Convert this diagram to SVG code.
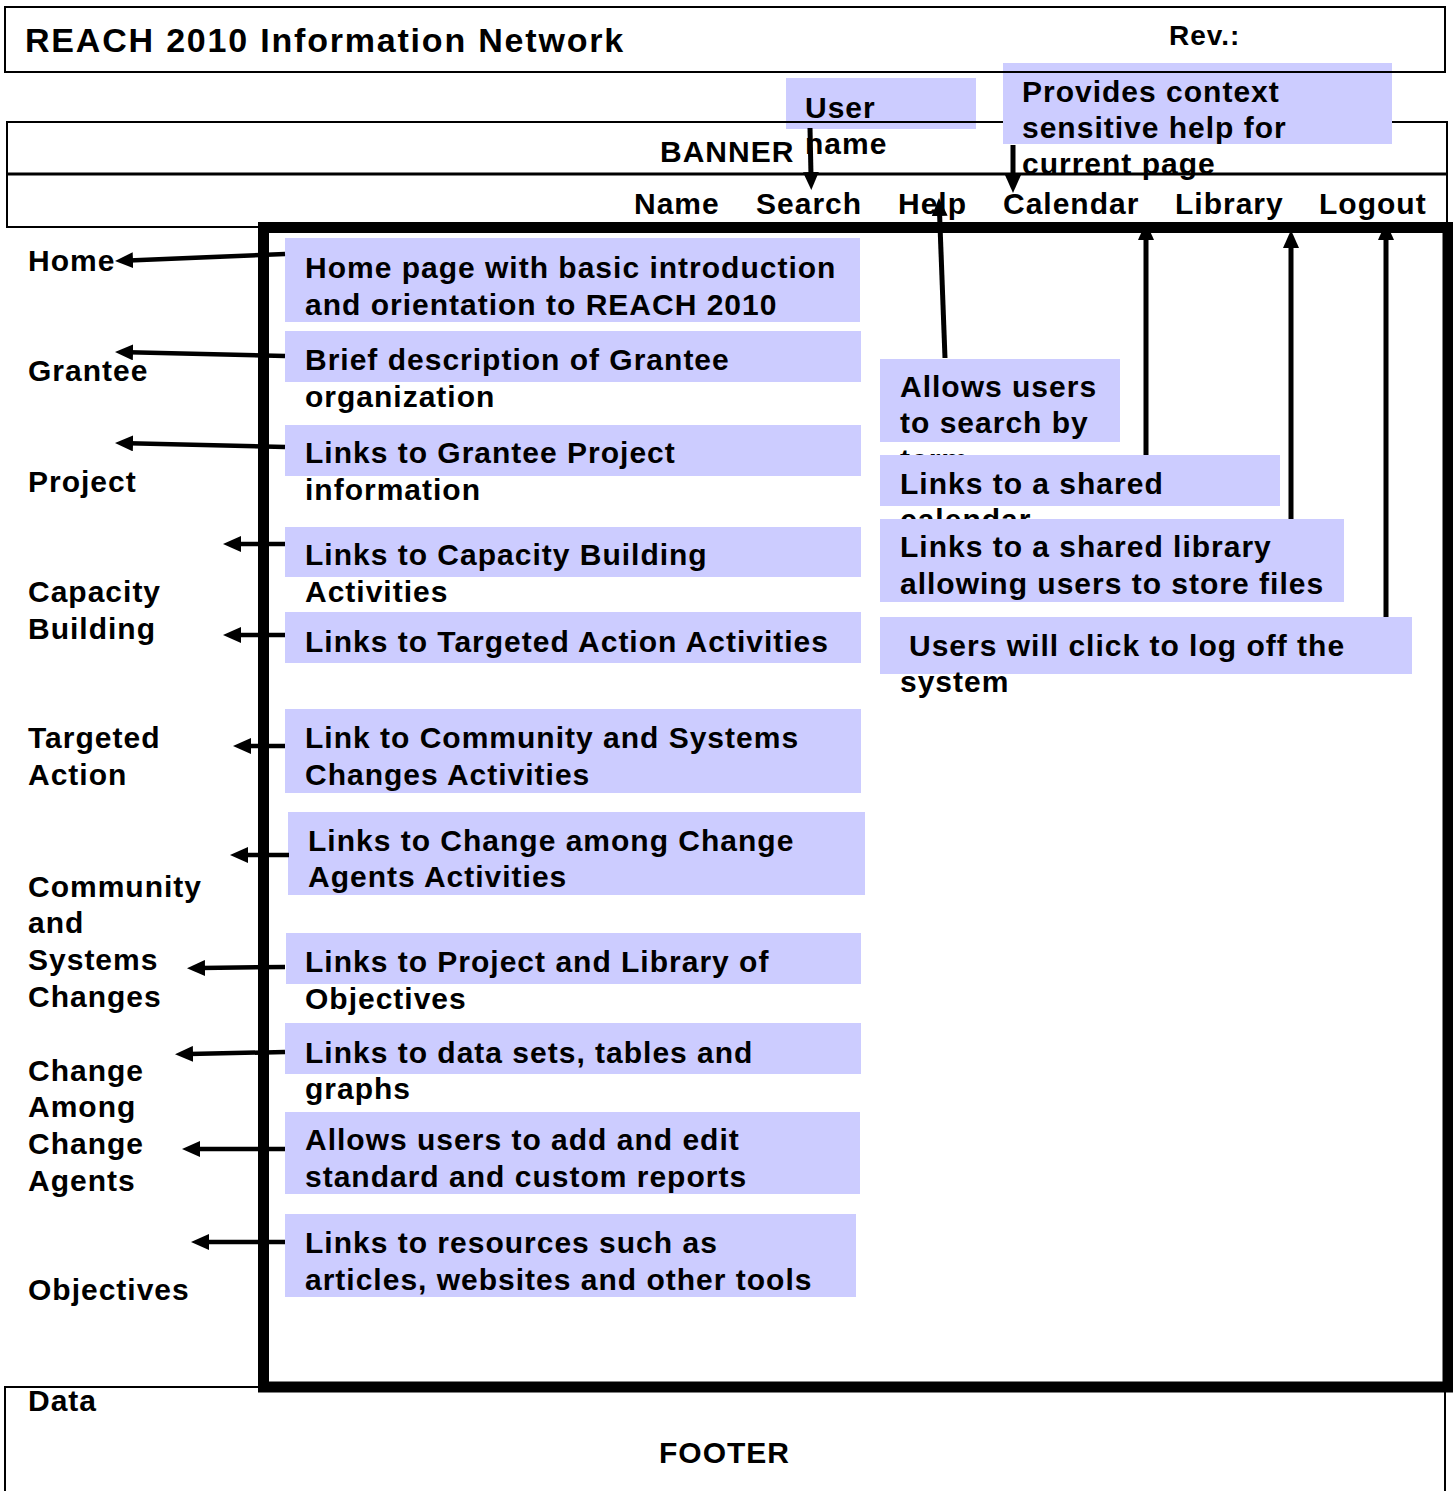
<svg xmlns="http://www.w3.org/2000/svg" width="1453" height="1491" viewBox="0 0 1453 1491">
<style>
text{font-family:"Liberation Sans",Arial,sans-serif;font-weight:bold;fill:#000;font-size:30px;letter-spacing:1px}
.frame{fill:none;stroke:#000;stroke-width:2}
.note{fill:#ccccff;stroke:none}
.arr{stroke:#000;stroke-width:4.5;fill:none;marker-end:url(#ah)}
.varr{stroke:#000;stroke-width:5;fill:none;marker-end:url(#ah)}
</style>
<defs>
<marker id="ah" viewBox="0 0 18 16" refX="4" refY="8" markerWidth="18" markerHeight="16" orient="auto" markerUnits="userSpaceOnUse">
<path d="M0,0 L18,8 L0,16 z" fill="#000"/>
</marker>
</defs>
<rect width="1453" height="1491" fill="#fff"/>

<g id="user-name-note">
<rect class="note" x="786" y="78" width="190" height="51"/>
</g>
<g id="banner">
<rect class="frame" x="7" y="122" width="1440" height="105"/>
<line x1="7" y1="174" x2="1447" y2="174" stroke="#000" stroke-width="3"/>
<text x="660" y="162">BANNER</text>
</g>
<g id="help-note">
<rect class="note" x="1003" y="63" width="389" height="81"/>
</g>
<g id="title">
<rect class="frame" x="5" y="7" width="1440" height="65"/>
<text x="25" y="52" style="font-size:34px;letter-spacing:1.8px">REACH 2010 Information Network</text>
<text x="1169" y="45" style="font-size:28px">Rev.:</text>
</g>
<g id="user-name-text">
<text x="805" y="118">User</text>
<text x="805" y="154">name</text>
</g>
<g id="help-note-text">
<text x="1022" y="102">Provides context</text>
<text x="1022" y="138">sensitive help for</text>
<text x="1022" y="174">current page</text>
</g>
<g id="nav">
<text x="634" y="214">Name</text>
<text x="756" y="214">Search</text>
<text x="898" y="214">Help</text>
<text x="1003" y="214">Calendar</text>
<text x="1175" y="214">Library</text>
<text x="1319" y="214">Logout</text>
</g>

<g id="footer">
<rect class="frame" x="5" y="1387" width="1440" height="120"/>
<text x="28" y="1411">Data</text>
<text x="659" y="1463">FOOTER</text>
</g>

<g id="content-frame">
<rect x="263.5" y="227.5" width="1184.5" height="1159.5" fill="none" stroke="#000" stroke-width="11"/>
</g>

<g id="left-labels">
<text x="28" y="271">Home</text>
<text x="28" y="381">Grantee</text>
<text x="28" y="492">Project</text>
<text x="28" y="602">Capacity</text>
<text x="28" y="639">Building</text>
<text x="28" y="748">Targeted</text>
<text x="28" y="785">Action</text>
<text x="28" y="897">Community</text>
<text x="28" y="933">and</text>
<text x="28" y="970">Systems</text>
<text x="28" y="1007">Changes</text>
<text x="28" y="1081">Change</text>
<text x="28" y="1117">Among</text>
<text x="28" y="1154">Change</text>
<text x="28" y="1191">Agents</text>
<text x="28" y="1300">Objectives</text>
</g>

<g id="n-home"><rect class="note" x="285" y="238" width="575" height="84"/>
<text x="305" y="278">Home page with basic introduction</text>
<text x="305" y="315">and orientation to REACH 2010</text></g>
<g id="n-grantee"><rect class="note" x="285" y="331" width="576" height="51"/>
<text x="305" y="370">Brief description of Grantee</text>
<text x="305" y="407">organization</text></g>
<g id="n-project"><rect class="note" x="285" y="425" width="576" height="51"/>
<text x="305" y="463">Links to Grantee Project</text>
<text x="305" y="500">information</text></g>
<g id="n-capacity"><rect class="note" x="285" y="527" width="576" height="50"/>
<text x="305" y="565">Links to Capacity Building</text>
<text x="305" y="602">Activities</text></g>
<g id="n-targeted"><rect class="note" x="285" y="612" width="576" height="51"/>
<text x="305" y="652">Links to Targeted Action Activities</text></g>
<g id="n-community"><rect class="note" x="285" y="709" width="576" height="84"/>
<text x="305" y="748">Link to Community and Systems</text>
<text x="305" y="785">Changes Activities</text></g>
<g id="n-change"><rect class="note" x="288" y="812" width="577" height="83"/>
<text x="308" y="851">Links to Change among Change</text>
<text x="308" y="887">Agents Activities</text></g>
<g id="n-objectives"><rect class="note" x="286" y="933" width="575" height="51"/>
<text x="305" y="972">Links to Project and Library of</text>
<text x="305" y="1009">Objectives</text></g>
<g id="n-data"><rect class="note" x="285" y="1023" width="576" height="51"/>
<text x="305" y="1063">Links to data sets, tables and</text>
<text x="305" y="1099">graphs</text></g>
<g id="n-reports"><rect class="note" x="285" y="1112" width="575" height="82"/>
<text x="305" y="1150">Allows users to add and edit</text>
<text x="305" y="1187">standard and custom reports</text></g>
<g id="n-resources"><rect class="note" x="285" y="1214" width="571" height="83"/>
<text x="305" y="1253">Links to resources such as</text>
<text x="305" y="1290">articles, websites and other tools</text></g>

<g id="n-search"><rect class="note" x="880" y="359" width="240" height="83"/>
<text x="900" y="397">Allows users</text>
<text x="900" y="433">to search by</text>
<text x="900" y="470">term</text></g>
<g id="n-calendar"><rect class="note" x="880" y="455" width="400" height="51"/>
<text x="900" y="494">Links to a shared</text>
<text x="900" y="530">calendar</text></g>
<g id="n-library"><rect class="note" x="880" y="519" width="464" height="83"/>
<text x="900" y="557">Links to a shared library</text>
<text x="900" y="594">allowing users to store files</text></g>
<g id="n-logout"><rect class="note" x="880" y="617" width="532" height="57"/>
<text x="909" y="656">Users will click to log off the</text>
<text x="900" y="692">system</text></g>

<g id="connectors">
<line class="arr" x1="285" y1="254" x2="129" y2="260.4"/>
<line class="arr" x1="285" y1="356" x2="129" y2="352.3"/>
<line class="arr" x1="285" y1="447" x2="129" y2="443.3"/>
<line class="arr" x1="285" y1="544" x2="237" y2="544"/>
<line class="arr" x1="285" y1="635" x2="237" y2="635"/>
<line class="arr" x1="285" y1="746" x2="247" y2="746"/>
<line class="arr" x1="289" y1="855" x2="244" y2="855"/>
<line class="arr" x1="285" y1="967" x2="201" y2="968"/>
<line class="arr" x1="285" y1="1052" x2="189" y2="1054"/>
<line class="arr" x1="285" y1="1149" x2="196" y2="1149"/>
<line class="arr" x1="285" y1="1242" x2="205" y2="1242"/>
<line class="varr" x1="945" y1="358" x2="939.5" y2="212"/>
<line class="varr" x1="1146" y1="455" x2="1146" y2="236"/>
<line class="varr" x1="1291" y1="519" x2="1291" y2="244"/>
<line class="varr" x1="1386" y1="617" x2="1386" y2="236"/>
<line class="varr" x1="810" y1="128" x2="811" y2="176"/>
<line class="varr" x1="1013" y1="145" x2="1013" y2="179"/>
</g>
</svg>
